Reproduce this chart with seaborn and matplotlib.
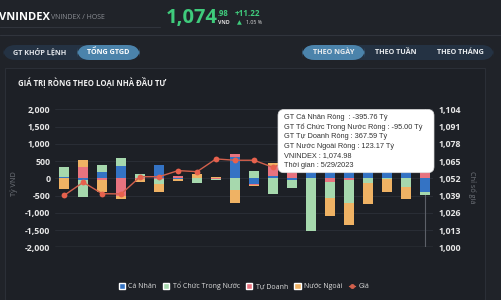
import numpy as np
import pandas as pd
import matplotlib
matplotlib.use("Agg")
import matplotlib.pyplot as plt
from matplotlib.patches import FancyBboxPatch, Rectangle
from matplotlib.lines import Line2D
import seaborn as sns

# ---------------- data ----------------
dates = ["4/27/2023", "4/28/2023", "5/4/2023", "5/5/2023", "5/8/2023", "5/9/2023",
         "5/10/2023", "5/11/2023", "5/12/2023", "5/15/2023", "5/16/2023", "5/17/2023",
         "5/18/2023", "5/19/2023", "5/22/2023", "5/23/2023", "5/24/2023", "5/25/2023",
         "5/26/2023", "5/29/2023"]
ca_nhan = [30, -60, 175, 360, 20, 400, -10, 10, 0, 615, -170, 60,
           -50, 1300, 1080, 1350, 745, 410, 600, -395.76]
to_chuc = [270, -470, 210, 230, 100, -130, -15, -130, -20, -340, 210, -450,
           -240, -1520, -470, -650, -145, -10, -260, -95.00]
tu_doanh = [20, 320, -35, -520, -30, -30, 75, 5, -15, 95, -10, 300,
            220, 90, -110, -60, 0, 0, 0, 367.59]
nuoc_ngoai = [-320, 210, -350, -70, -90, -240, -50, 115, 35, -370, -30, 90,
              70, 130, -500, -640, -600, -400, -340, 123.17]
gia = [1039.2, 1049.0, 1040.4, 1040.2, 1053.2, 1053.2, 1057.8, 1057.0, 1066.6,
       1065.6, 1065.6, 1060.3, 1066.0, 1067.0, 1066.0, 1062.0, 1064.0, 1061.0,
       1063.76, 1074.98]
left_ticks = [-2000, -1500, -1000, -500, 0, 500, 1000, 1500, 2000]
right_ticks = [1000, 1013, 1026, 1039, 1052, 1065, 1078, 1091, 1104]
series_names = ["Cá Nhân", "Tổ Chức Trong Nước", "Tự Doanh", "Nước Ngoài"]
change = 11.22
change_pct = 1.05

# ---------------- styles ----------------
BG = "#202329"
PANEL = "#1d2026"
C_BLUE = "#3473c4"
C_GREEN = "#a6d8ad"
C_RED = "#e8737f"
C_ORANGE = "#efb264"
C_LINE = "#d2604c"
C_UP = "#3fcb7c"
TXT = "#e6e6e6"

sns.set_theme(style="dark")
plt.rcParams["font.family"] = ["Open Sans", "DejaVu Sans"]

W, H = 501, 300
fig = plt.figure(figsize=(W / 100, H / 100), dpi=100, facecolor=BG)


def fx(px):
    return px / W


def fy(py):
    return 1 - py / H


# panel background
fig.patches.append(Rectangle((fx(5), fy(300)), fx(480), (300 - 68) / H, transform=fig.transFigure,
                             facecolor=PANEL, edgecolor="#2b2f37", lw=0.8, zorder=-5))
fig.add_artist(Line2D([0, fx(160)], [fy(27), fy(27)], color="#30343c", lw=0.8, zorder=-4))
fig.add_artist(Line2D([0, 1], [fy(35), fy(35)], color="#30343c", lw=0.8, zorder=-4))

# header
fig.text(fx(-1), fy(17), "VNINDEX", color="white", fontsize=8.0, fontweight="bold", va="center")
fig.text(fx(51), fy(17.5), "VNINDEX / HOSE", color="#8a8d93", fontsize=5.0, va="center")
fig.text(fx(166), fy(18.5), f"{gia[-1]:,.2f}".split(".")[0], color=C_UP, fontsize=14.5,
         fontweight="bold", va="center")
fig.text(fx(218), fy(14), "." + f"{gia[-1]:.2f}".split(".")[1], color=C_UP, fontsize=5.5,
         fontweight="bold", va="center")
fig.text(fx(218), fy(22.5), "VND", color="#dddddd", fontsize=3.8, fontweight="bold", va="center")
fig.text(fx(235), fy(14), f"+{change:.2f}", color=C_UP, fontsize=5.8, fontweight="bold", va="center")
fig.text(fx(236.5), fy(22.5), "▲", color=C_UP, fontsize=4.5, va="center", family=["DejaVu Sans"])
fig.text(fx(246), fy(22.5), f"{change_pct:.2f} %", color="#dddddd", fontsize=3.8, va="center")


def pill(x0, x1, y0, y1, color):
    fig.patches.append(FancyBboxPatch((fx(x0), fy(y1)), fx(x1 - x0), (y1 - y0) / H,
                                      boxstyle="round,pad=0,rounding_size=0.025",
                                      mutation_aspect=W / H,
                                      transform=fig.transFigure, facecolor=color,
                                      edgecolor="none", zorder=1))


pill(3, 140, 45, 60, "#243243")
pill(77, 140, 45, 60, "#4b83ab")
fig.text(fx(40), fy(52.5), "GT KHỚP LỆNH", color="#dfe3e8", fontsize=5.2, fontweight="bold",
         ha="center", va="center", zorder=3)
fig.text(fx(108.5), fy(52.5), "TỔNG GTGD", color="white", fontsize=5.2, fontweight="bold",
         ha="center", va="center", zorder=3)
pill(302, 494, 45, 60, "#243243")
pill(302, 365, 45, 60, "#4b83ab")
for cx, lab in [(333.5, "THEO NGÀY"), (396, "THEO TUẦN"), (460.5, "THEO THÁNG")]:
    fig.text(fx(cx), fy(52.5), lab, color="#e8ebee", fontsize=5.2, fontweight="bold",
             ha="center", va="center", zorder=3)

fig.text(fx(18), fy(83), "GIÁ TRỊ RÒNG THEO LOẠI NHÀ ĐẦU TƯ", color="#f0f0f0", fontsize=5.6,
         fontweight="bold", va="center")

# ---------------- chart ----------------
ax = fig.add_axes([fx(55), fy(247.3), fx(433 - 55), (247.3 - 109.3) / H], zorder=2)
ax.set_facecolor("none")
n = len(dates)
xs = np.arange(n)

# stacking: same-sign stacking, series nearest zero first
stack_order = [(ca_nhan, C_BLUE), (tu_doanh, C_RED), (to_chuc, C_GREEN), (nuoc_ngoai, C_ORANGE)]
pos_base = np.zeros(n)
neg_base = np.zeros(n)
for vals, col in stack_order:
    v = np.asarray(vals, dtype=float)
    bottoms = np.where(v >= 0, pos_base, neg_base)
    df = pd.DataFrame({"x": xs, "h": v})
    sns.barplot(data=df, x="x", y="h", bottom=bottoms, color=col, width=0.53,
                errorbar=None, ax=ax, native_scale=True, saturation=1,
                edgecolor="none", linewidth=0, zorder=2)
    pos_base = pos_base + np.where(v >= 0, v, 0)
    neg_base = neg_base + np.where(v < 0, v, 0)

ax.set_xlim(-0.49, n - 1 + 0.44)
ax.set_ylim(-2000, 2000)
ax.set_yticks(left_ticks)
ax.set_yticklabels([f"{t:,}" for t in left_ticks])
ax.set_xticks([])
ax.set_xlabel("")
ax.set_ylabel("")
for t in left_ticks:
    ax.axhline(t, color="#4a4e56" if t == -2000 else "#2c3038", lw=1.0 if t == -2000 else 0.6, zorder=1)
ax.axvline(n - 1, color="#5c6068", lw=0.8, zorder=1)
for s in ax.spines.values():
    s.set_visible(False)
ax.tick_params(axis="y", colors=TXT, labelsize=6.3, length=0, pad=3.5)
for lab in ax.get_yticklabels():
    lab.set_fontweight("bold")
ax.grid(False)

ax2 = ax.twinx()
ax2.set_facecolor("none")
dfp = pd.DataFrame({"x": xs, "gia": gia})
sns.lineplot(data=dfp, x="x", y="gia", ax=ax2, color=C_LINE, lw=1.0, marker="o",
             markersize=4.2, markeredgewidth=0, markerfacecolor="#e6614d", zorder=3)
ax2.set_ylim(1000, 1104)
ax2.set_yticks(right_ticks)
ax2.set_yticklabels([f"{t:,}" for t in right_ticks])
ax2.set_xlim(-0.49, n - 1 + 0.44)
ax2.set_ylabel("")
ax2.set_xlabel("")
for s in ax2.spines.values():
    s.set_visible(False)
ax2.tick_params(axis="y", colors=TXT, labelsize=6.3, length=0, pad=4)
for lab in ax2.get_yticklabels():
    lab.set_fontweight("bold")
ax2.grid(False)

fig.text(fx(14), fy(184), "Tỷ VND", color="#70747b", fontsize=5.2, rotation=90,
         ha="center", va="center")
fig.text(fx(472), fy(187), "Chỉ số giá", color="#70747b", fontsize=5.2, rotation=270,
         ha="center", va="center")

# legend
handles = [Rectangle((0, 0), 1, 1, facecolor=c) for c in [C_BLUE, C_GREEN, C_RED, C_ORANGE]]
handles.append(Line2D([0], [0], color=C_LINE, lw=1, marker="o", markersize=2.5))
leg = fig.legend(handles, series_names + ["Giá"], loc="center", ncol=5,
                 bbox_to_anchor=(fx(244), fy(286)), frameon=False, fontsize=5.0,
                 handlelength=0.9, handleheight=0.9, handletextpad=0.5, columnspacing=0.9,
                 labelcolor="#dcdcdc")

# tooltip
tip = FancyBboxPatch((fx(278), fy(172.7)), fx(434 - 278), (172.7 - 109.5) / H,
                     boxstyle="round,pad=0,rounding_size=0.012",
                     mutation_aspect=W / H,
                     transform=fig.transFigure, facecolor="white",
                     edgecolor="#dddddd", lw=0.5, zorder=10)
fig.add_artist(tip)
last = n - 1
tip_lines = [
    f"GT Cá Nhân Ròng  : {ca_nhan[last]:.2f} Tỷ",
    f"GT Tổ Chức Trong Nước Ròng : {to_chuc[last]:.2f} Tỷ",
    f"GT Tự Doanh Ròng : {tu_doanh[last]:.2f} Tỷ",
    f"GT Nước Ngoài Ròng : {nuoc_ngoai[last]:.2f} Tỷ",
    f"VNINDEX : {gia[last]:,.2f}",
    f"Thời gian : {dates[last]}",
]
for i, t in enumerate(tip_lines):
    fig.text(fx(284), fy(117.8 + i * 9.5), t, color="#333333", fontsize=5.3,
             family=["Liberation Sans", "DejaVu Sans"], va="center", zorder=11)

fig.savefig("out.png", dpi=100, facecolor=BG)
